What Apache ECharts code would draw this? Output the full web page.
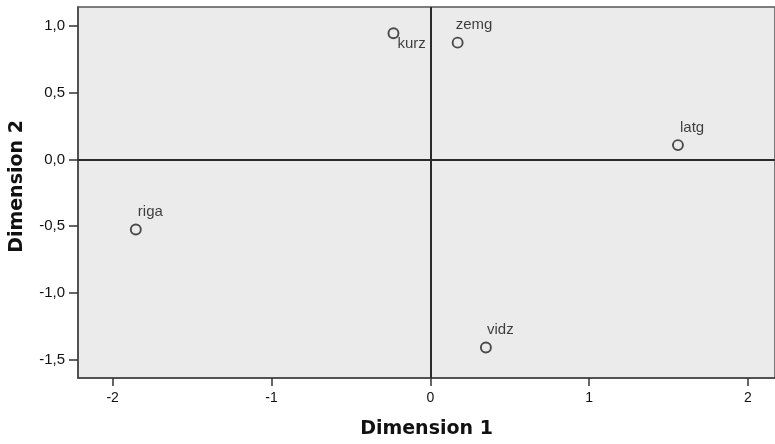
<!DOCTYPE html>
<html><head><meta charset="utf-8">
<script src="https://cdn.jsdelivr.net/npm/echarts@6/dist/echarts.min.js"></script>
<style>html,body{margin:0;padding:0;background:#fff}#c{width:775px;height:444px}</style>
</head><body><div id="c"></div>
<script>
const names = ['kurz', 'zemg', 'latg', 'riga', 'vidz'];
const dim1 = [-0.232, 0.172, 1.559, -1.854, 0.35];
const dim2 = [0.945, 0.875, 0.107, -0.525, -1.41];
const xTicks = [-2, -1, 0, 1, 2];
const yTicks = [-1.5, -1.0, -0.5, 0.0, 0.5, 1.0];

const font = 'Liberation Sans, Arial, sans-serif';
const labelPos = { kurz: [10, 17], zemg: [4, -12], latg: [8, -11], riga: [8, -12], vidz: [7, -12] };

const data = names.map((n, i) => ({
  value: [dim1[i], dim2[i]], name: n,
  label: { position: labelPos[n] }
}));

const chart = echarts.init(document.getElementById('c'));
chart.setOption({
  animation: false,
  backgroundColor: '#ffffff',
  grid: { left: 77, top: 7, right: -2, bottom: 66, show: true, backgroundColor: '#ebebeb', borderColor: '#555', borderWidth: 1.5 },
  xAxis: {
    type: 'value', min: -2.218, max: 2.17, interval: 1,
    axisLine: { show: true, onZero: false, lineStyle: { color: '#444', width: 1.5 } },
    axisTick: { show: true, length: 8, lineStyle: { color: '#333', width: 1.5 }, customValues: xTicks },
    axisLabel: { margin: 13, color: '#111', fontSize: 14, fontFamily: font, customValues: xTicks, formatter: v => String(v) },
    splitLine: { show: false },
    name: 'Dimension 1', nameLocation: 'middle', nameGap: 42,
    nameTextStyle: { fontSize: 19, fontWeight: 'bold', color: '#111', fontFamily: 'DejaVu Sans, sans-serif' }
  },
  yAxis: {
    type: 'value', min: -1.638, max: 1.142,
    axisLine: { show: true, onZero: false, lineStyle: { color: '#444', width: 1.5 } },
    axisTick: { show: true, length: 9, lineStyle: { color: '#333', width: 1.5 }, customValues: yTicks },
    axisLabel: { margin: 13, color: '#111', fontSize: 15, fontFamily: font, customValues: yTicks, formatter: v => v.toFixed(1).replace('.', ',') },
    splitLine: { show: false },
    name: 'Dimension 2', nameLocation: 'middle', nameGap: 51,
    nameTextStyle: { fontSize: 19, fontWeight: 'bold', color: '#111', fontFamily: 'DejaVu Sans, sans-serif', padding: [0, 0, 0, 12] }
  },
  series: [{
    type: 'scatter',
    data: data,
    symbol: 'circle', symbolSize: 10,
    itemStyle: { color: 'rgba(0,0,0,0)', borderColor: '#222', borderWidth: 1.9 },
    label: { show: true, formatter: p => p.name, color: '#111', fontSize: 15, fontFamily: font, align: 'left', verticalAlign: 'middle' },
    markLine: {
      silent: true, symbol: 'none', label: { show: false },
      lineStyle: { color: '#2a2a2a', width: 2, type: 'solid' },
      data: [{ xAxis: 0 }, { yAxis: 0 }]
    },
    z: 3
  }]
});
</script></body></html>
